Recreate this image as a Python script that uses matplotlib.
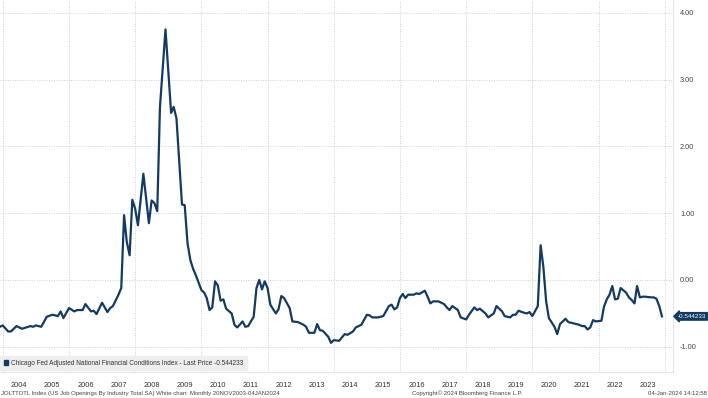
import matplotlib
matplotlib.use("Agg")
import matplotlib.pyplot as plt
import matplotlib.dates as mdates
from matplotlib.patches import Patch
import pandas as pd

# Chicago Fed ANFCI, monthly readings taken from the chart
dates = [
    "2003-12", "2004-01", "2004-03", "2004-04", "2004-06", "2004-08", "2004-11", "2004-12",
    "2005-01", "2005-03", "2005-05", "2005-07", "2005-09", "2005-10", "2005-11",
    "2006-01", "2006-03", "2006-04", "2006-06", "2006-07", "2006-09", "2006-10", "2006-11",
    "2007-01", "2007-03", "2007-04", "2007-05", "2007-07", "2007-08", "2007-09", "2007-10",
    "2007-11", "2007-12", "2008-01", "2008-02", "2008-04", "2008-06", "2008-07", "2008-08",
    "2008-09", "2008-10", "2008-12", "2009-02", "2009-03", "2009-04", "2009-06", "2009-07",
    "2009-08", "2009-09", "2009-10", "2009-11", "2010-01", "2010-02", "2010-03", "2010-04",
    "2010-05", "2010-06", "2010-07", "2010-08", "2010-09", "2010-10", "2010-12",
    "2011-01", "2011-02", "2011-04", "2011-05", "2011-06", "2011-08", "2011-09", "2011-10",
    "2011-11", "2011-12", "2012-01", "2012-02", "2012-04", "2012-05", "2012-06", "2012-07",
    "2012-09", "2012-10", "2012-12", "2013-02", "2013-03", "2013-04", "2013-06", "2013-07",
    "2013-08", "2013-09", "2013-11", "2013-12", "2014-01", "2014-03", "2014-05", "2014-06",
    "2014-08", "2014-09", "2014-11", "2015-01", "2015-02", "2015-03", "2015-05", "2015-07",
    "2015-09", "2015-10", "2015-11", "2015-12", "2016-01", "2016-02", "2016-03", "2016-04",
    "2016-06", "2016-07", "2016-08", "2016-10", "2016-11", "2016-12", "2017-01", "2017-03",
    "2017-05", "2017-06", "2017-07", "2017-08", "2017-10", "2017-11", "2018-01", "2018-02",
    "2018-04", "2018-05", "2018-06", "2018-08", "2018-09", "2018-11", "2018-12", "2019-02",
    "2019-03", "2019-05", "2019-06", "2019-07", "2019-08", "2019-10", "2019-11", "2019-12",
    "2020-01", "2020-03", "2020-04", "2020-05", "2020-06", "2020-07", "2020-09", "2020-10",
    "2020-11", "2021-01", "2021-02", "2021-04", "2021-06", "2021-07", "2021-08", "2021-09",
    "2021-10", "2021-11", "2021-12", "2022-02", "2022-03", "2022-04", "2022-05", "2022-06",
    "2022-07", "2022-08", "2022-09", "2022-11", "2022-12", "2023-01", "2023-02", "2023-03",
    "2023-04", "2023-05", "2023-06", "2023-08", "2023-09", "2023-10", "2023-11", "2023-12",
]
values = [
    -0.70, -0.68, -0.77, -0.77, -0.69, -0.73, -0.69, -0.70,
    -0.68, -0.70, -0.55, -0.52, -0.54, -0.47, -0.57,
    -0.42, -0.47, -0.45, -0.45, -0.36, -0.47, -0.46, -0.51,
    -0.34, -0.48, -0.42, -0.39, -0.22, -0.12, 0.97, 0.57,
    0.37, 1.20, 1.07, 0.82, 1.59, 0.85, 1.19, 1.15,
    1.03, 2.59, 3.75, 2.50, 2.59, 2.42, 1.13, 1.12,
    0.55, 0.30, 0.17, 0.07, -0.15, -0.19, -0.27, -0.45,
    -0.41, -0.02, -0.08, -0.31, -0.29, -0.43, -0.50,
    -0.67, -0.71, -0.62, -0.70, -0.69, -0.55, -0.12, 0.00,
    -0.14, -0.02, -0.12, -0.37, -0.50, -0.44, -0.24, -0.27,
    -0.42, -0.62, -0.63, -0.67, -0.70, -0.79, -0.79, -0.66,
    -0.75, -0.76, -0.85, -0.94, -0.90, -0.91, -0.81, -0.82,
    -0.77, -0.71, -0.67, -0.52, -0.53, -0.56, -0.56, -0.54,
    -0.39, -0.37, -0.44, -0.41, -0.27, -0.21, -0.27, -0.22,
    -0.22, -0.20, -0.21, -0.16, -0.25, -0.35, -0.32, -0.32,
    -0.36, -0.41, -0.45, -0.39, -0.45, -0.56, -0.59, -0.52,
    -0.41, -0.45, -0.43, -0.50, -0.56, -0.50, -0.39, -0.47,
    -0.54, -0.56, -0.52, -0.52, -0.46, -0.49, -0.50, -0.48,
    -0.54, -0.39, 0.52, 0.20, -0.32, -0.57, -0.70, -0.81,
    -0.66, -0.58, -0.63, -0.65, -0.67, -0.69, -0.69, -0.74,
    -0.71, -0.60, -0.62, -0.61, -0.40, -0.29, -0.22, -0.09,
    -0.29, -0.28, -0.12, -0.19, -0.26, -0.30, -0.35, -0.09,
    -0.26, -0.25, -0.25, -0.26, -0.26, -0.28, -0.39, -0.544233,
]
y_ticks = [-1, 0, 1, 2, 3, 4]
last_price = -0.544233
series_name = "Chicago Fed Adjusted National Financial Conditions Index - Last Price"

plt.rcParams['font.family'] = ['Liberation Sans Narrow', 'Liberation Sans', 'DejaVu Sans']

x = pd.to_datetime(dates)
navy = "#133a62"

fig = plt.figure(figsize=(7.08, 3.98), dpi=100)
ax = fig.add_axes([0.0, 0.0653, 0.9506, 0.9347])

ax.plot(x, values, color=navy, lw=1.6, solid_joinstyle='round')

ax.set_xlim(pd.Timestamp("2003-12-02"), pd.Timestamp("2024-04-01"))
ax.set_ylim(-1.377, 4.19)

# y axis on the right
ax.yaxis.tick_right()
ax.set_yticks(y_ticks)
ax.set_yticklabels([f"{t:.2f}" for t in y_ticks])
ax.tick_params(axis='y', length=0, pad=5, labelsize=5.3, labelcolor="#444444")

# gridlines every two years, year labels mid-year
ax.xaxis.set_major_locator(mdates.YearLocator(2))
ax.xaxis.set_major_formatter(plt.NullFormatter())
ax.xaxis.set_minor_locator(mdates.MonthLocator(bymonth=7))
ax.xaxis.set_minor_formatter(mdates.DateFormatter("%Y"))
ax.tick_params(axis='x', which='both', length=0, labelsize=5.3, labelcolor="#333333")
ax.tick_params(axis='x', which='minor', pad=7)

ax.grid(True, which='major', color="#cfcfcf", lw=0.7, ls=(0, (1, 1.5)))

for side in ["top", "left"]:
    ax.spines[side].set_visible(False)
for side in ["right", "bottom"]:
    ax.spines[side].set_color("#e6e6e6")
    ax.spines[side].set_linewidth(0.8)

# last price tag
ax.annotate(f"{last_price:.6f}", xy=(1.0, last_price), xycoords=('axes fraction', 'data'),
            xytext=(3.5, 0), textcoords='offset points', va='center', ha='left',
            color="white", fontsize=4.5, annotation_clip=False,
            bbox=dict(boxstyle="larrow,pad=0.2", fc=navy, ec=navy))

# legend
leg = ax.legend(handles=[Patch(color=navy)], labels=[f"{series_name} {last_price:.6f}"],
                loc="lower left", bbox_to_anchor=(0.0, 0.005), borderaxespad=0,
                fontsize=4.7, handlelength=0.75, handleheight=0.95, handletextpad=0.4,
                borderpad=0.55, fancybox=True, framealpha=1)
leg.get_frame().set_facecolor("#eeeeee")
leg.get_frame().set_edgecolor("#eeeeee")
for t in leg.get_texts():
    t.set_color("#333333")

# footer
fig.text(0.002, 0.004, "JOLTTOTL Index (US Job Openings By Industry Total SA) White chart  Monthly 20NOV2003-04JAN2024",
         fontsize=4.3, color="#444444", ha='left', va='bottom')
fig.text(0.5815, 0.004, "Copyright\u00a9 2024 Bloomberg Finance L.P.",
         fontsize=4.3, color="#444444", ha='left', va='bottom')
fig.text(0.998, 0.004, "04-Jan-2024 14:12:58",
         fontsize=4.3, color="#444444", ha='right', va='bottom')

fig.savefig("out.png", dpi=100)
